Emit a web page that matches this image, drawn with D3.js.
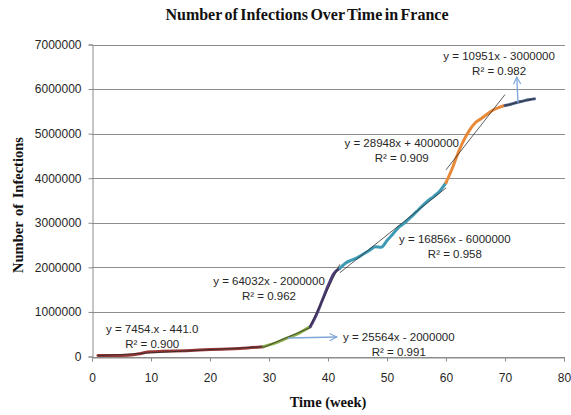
<!DOCTYPE html>
<html>
<head>
<meta charset="utf-8">
<script src="https://cdn.jsdelivr.net/npm/d3@7"></script>
<style>
  html, body { margin: 0; padding: 0; background: #fff; }
  svg { display: block; }
</style>
</head>
<body>
<svg id="chart" width="571" height="415"></svg>
<script>
// Weekly cumulative infections in France, split into the phases that each get their own trend line
const phase1Weeks = [1, 5, 7, 8, 9, 10, 12, 16, 20, 22, 25, 27, 29];
const phase1Cases = [20000, 25000, 40000, 60000, 90000, 105000, 115000, 130000, 155000, 165000, 180000, 200000, 220000];
const phase2Weeks = [29, 31, 33, 35, 37];
const phase2Cases = [220000, 300000, 410000, 520000, 670000];
const phase3Weeks = [37, 38, 39, 40, 41, 42];
const phase3Cases = [670000, 930000, 1250000, 1580000, 1860000, 1980000];
const phase4Weeks = [42, 43, 44, 45, 46, 47, 48, 49, 50, 51, 52, 53, 54, 55, 56, 57, 58, 59, 60];
const phase4Cases = [1980000, 2100000, 2160000, 2220000, 2300000, 2380000, 2460000, 2450000, 2600000, 2750000, 2900000, 3000000, 3120000, 3250000, 3380000, 3500000, 3600000, 3720000, 3900000];
const phase5Weeks = [60, 61, 62, 63, 64, 65, 66, 67, 68, 69, 70];
const phase5Cases = [3900000, 4200000, 4550000, 4850000, 5080000, 5250000, 5340000, 5440000, 5530000, 5590000, 5630000];
const phase6Weeks = [70, 71, 72, 73, 74, 75];
const phase6Cases = [5630000, 5660000, 5700000, 5730000, 5760000, 5780000];

// Trend line labels as printed on the chart
const equations = ["y = 7454.x - 441.0", "y = 25564x - 2000000", "y = 64032x - 2000000",
                   "y = 16856x - 6000000", "y = 28948x + 4000000", "y = 10951x - 3000000"];
const rSquared = ["0.900", "0.991", "0.962", "0.958", "0.909", "0.982"];

const xTicks = [0, 10, 20, 30, 40, 50, 60, 70, 80];
const yTicks = [0, 1000000, 2000000, 3000000, 4000000, 5000000, 6000000, 7000000];

const phaseColors = ["#953735", "#8AAE47", "#4E3D7A", "#3C9AB4", "#E8893A", "#4A6088"];

const phases = [
  [phase1Weeks, phase1Cases], [phase2Weeks, phase2Cases], [phase3Weeks, phase3Cases],
  [phase4Weeks, phase4Cases], [phase5Weeks, phase5Cases], [phase6Weeks, phase6Cases]
].map(([w, c], i) => ({ points: w.map((x, j) => ({ x, y: c[j] })), color: phaseColors[i] }));

// Where each equation block sits, in chart units (week, infections) of its first line's centre
const labelAnchors = [[10.2, 617000], [52.0, 437000], [30.0, 1694000], [61.5, 2636000], [52.5, 4790000], [69.0, 6742000]];

const svg = d3.select("#chart");
const x = d3.scaleLinear().domain([0, 80]).range([92, 564]);
const y = d3.scaleLinear().domain([0, 7000000]).range([356.5, 44.5]);

const gridColor = "#8C8C8C";
const textColor = "#262626";

// Horizontal gridlines
svg.append("g").selectAll("line").data(yTicks).join("line")
  .attr("x1", x(0)).attr("x2", x(80) + 1)
  .attr("y1", d => Math.round(y(d)) + 0.5).attr("y2", d => Math.round(y(d)) + 0.5)
  .attr("stroke", gridColor).attr("stroke-width", 1);

// Y axis
const yAxis = svg.append("g")
  .attr("transform", `translate(${Math.round(x(0)) + 0.5},0)`)
  .call(d3.axisLeft(y).tickValues(yTicks).tickFormat(d3.format("d")).tickSize(4).tickPadding(7));
yAxis.select(".domain").attr("stroke", gridColor);
yAxis.selectAll(".tick line").attr("stroke", gridColor);
yAxis.selectAll(".tick text")
  .attr("font-family", "'Liberation Sans', Arial, sans-serif").attr("font-size", 12).attr("fill", textColor);

// X axis
const xAxis = svg.append("g")
  .attr("transform", `translate(0,${Math.round(y(0)) + 0.5})`)
  .call(d3.axisBottom(x).tickValues(xTicks).tickFormat(d3.format("d")).tickSize(4).tickPadding(12));
xAxis.select(".domain").attr("stroke", gridColor);
xAxis.selectAll(".tick line").attr("stroke", gridColor);
xAxis.selectAll(".tick text")
  .attr("font-family", "'Liberation Sans', Arial, sans-serif").attr("font-size", 12).attr("fill", textColor);

// Infection curve, one coloured run per phase
const line = d3.line().x(d => x(d.x)).y(d => y(d.y)).curve(d3.curveMonotoneX);
svg.append("g").selectAll("path").data(phases).join("path")
  .attr("d", d => line(d.points))
  .attr("fill", "none").attr("stroke", d => d.color)
  .attr("stroke-width", 3).attr("stroke-linecap", "round").attr("stroke-linejoin", "round");

// Least-squares trend line for each phase
function fit(points) {
  const n = points.length;
  const mx = d3.mean(points, p => p.x), my = d3.mean(points, p => p.y);
  const sxy = d3.sum(points, p => (p.x - mx) * (p.y - my));
  const sxx = d3.sum(points, p => (p.x - mx) ** 2);
  const slope = sxy / sxx;
  return { slope, intercept: my - slope * mx };
}
svg.append("g").selectAll("line").data(phases).join("line")
  .each(function (d) {
    const f = fit(d.points);
    const x0 = d.points[0].x, x1 = d.points[d.points.length - 1].x;
    d3.select(this)
      .attr("x1", x(x0)).attr("y1", y(f.slope * x0 + f.intercept))
      .attr("x2", x(x1)).attr("y2", y(f.slope * x1 + f.intercept));
  })
  .attr("stroke", "#2a2a2a").attr("stroke-width", 0.9).attr("stroke-opacity", 0.85);

// Equation labels
const labels = svg.append("g")
  .attr("font-family", "'Liberation Sans', Arial, sans-serif")
  .attr("font-size", 11.5).attr("fill", textColor).attr("text-anchor", "middle");
equations.forEach((eq, i) => {
  const [wx, wy] = labelAnchors[i];
  const cx = x(wx), cy = y(wy);
  labels.append("text").attr("x", cx).attr("y", cy).attr("dy", "0.35em").text(eq);
  labels.append("text").attr("x", cx).attr("y", cy + 15).attr("dy", "0.35em").text(`R\u00B2 = ${rSquared[i]}`);
});

// Arrows tying two labels back to the curve
const arrowColor = "#7FA6D8";
svg.append("defs").append("marker")
  .attr("id", "arrowhead").attr("viewBox", "0 0 10 10").attr("refX", 9).attr("refY", 5)
  .attr("markerWidth", 9).attr("markerHeight", 9).attr("markerUnits", "userSpaceOnUse")
  .attr("orient", "auto")
  .append("path").attr("d", "M1,1 L9,5 L1,9").attr("fill", "none")
  .attr("stroke", arrowColor).attr("stroke-width", 1.3);

const arrows = [
  { from: [33.2, 415000], to: [x(52.0) - 62, y(437000)] },
  { from: [72.2, 5690000], to: [x(72.0), y(6742000) + 21] }
];
svg.append("g").selectAll("line").data(arrows).join("line")
  .attr("x1", d => x(d.from[0])).attr("y1", d => y(d.from[1]))
  .attr("x2", d => d.to[0]).attr("y2", d => d.to[1])
  .attr("stroke", arrowColor).attr("stroke-width", 1.3)
  .attr("marker-end", "url(#arrowhead)");

// Titles
svg.append("text")
  .attr("x", 307).attr("y", 20).attr("text-anchor", "middle")
  .attr("font-family", "'Liberation Serif', 'Times New Roman', serif")
  .attr("font-weight", "bold").attr("font-size", 16).attr("word-spacing", -1.5)
  .attr("fill", "#111").text("Number of Infections Over Time in France");

svg.append("text")
  .attr("x", 328).attr("y", 407).attr("text-anchor", "middle")
  .attr("font-family", "'Liberation Serif', 'Times New Roman', serif")
  .attr("font-weight", "bold").attr("font-size", 14.5)
  .attr("fill", "#111").text("Time (week)");

svg.append("text")
  .attr("transform", "translate(23,205) rotate(-90)").attr("text-anchor", "middle")
  .attr("font-family", "'Liberation Serif', 'Times New Roman', serif")
  .attr("font-weight", "bold").attr("font-size", 14.5).attr("word-spacing", 2)
  .attr("fill", "#111").text("Number of Infections");
</script>
</body>
</html>
